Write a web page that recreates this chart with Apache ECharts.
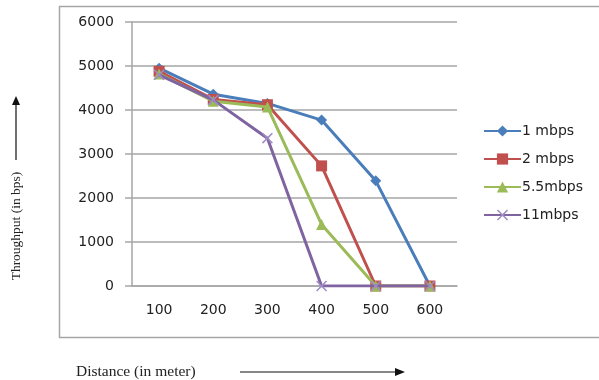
<!DOCTYPE html>
<html>
<head>
<meta charset="utf-8">
<script src="https://cdn.jsdelivr.net/npm/echarts@6/dist/echarts.min.js"></script>
<style>
  html, body { margin: 0; padding: 0; background: #fff; }
  #chart { width: 599px; height: 380px; }
</style>
</head>
<body>
<div id="chart"></div>
<script>
// Throughput versus distance for four 802.11b data rates
const distances = ['100', '200', '300', '400', '500', '600'];
const seriesNames = ['1 mbps', '2 mbps', '5.5mbps', '11mbps'];
const rate1 = [4950, 4360, 4150, 3770, 2390, 0];
const rate2 = [4880, 4240, 4120, 2730, 0, 0];
const rate55 = [4820, 4200, 4070, 1400, 0, 0];
const rate11 = [4800, 4230, 3360, 0, 0, 0];
const yTicks = [0, 1000, 2000, 3000, 4000, 5000, 6000];

const colors = ['#4A7EBB', '#C0504D', '#9BBB59', '#8064A2'];
const crossPath = 'path://M0,1 L1,0 L5,4 L9,0 L10,1 L6,5 L10,9 L9,10 L5,6 L1,10 L0,9 L4,5 Z';
const symbols = ['diamond', 'rect', 'triangle', crossPath];
const symbolSizes = [11, 11, 11, 11];
const values = [rate1, rate2, rate55, rate11];

const chart = echarts.init(document.getElementById('chart'), null, { renderer: 'canvas' });

const series = seriesNames.map((name, i) => ({
  name: name,
  type: 'line',
  data: values[i],
  symbol: symbols[i],
  symbolSize: symbolSizes[i],
  showAllSymbol: true,
  lineStyle: { color: colors[i], width: 3 },
  itemStyle: { color: i === 3 ? '#A08CC4' : colors[i], borderWidth: 0 },
  emphasis: { disabled: true },
  z: 2 + i
}));

chart.setOption({
  animation: false,
  backgroundColor: '#ffffff',
  textStyle: { fontFamily: 'DejaVu Sans' },
  grid: { left: 132, top: 22, right: 142, bottom: 94, containLabel: false },
  legend: {
    data: seriesNames,
    orient: 'vertical',
    left: 478,
    top: 119,
    itemWidth: 37,
    itemHeight: 14,
    itemGap: 14,
    textStyle: { fontSize: 14, color: '#222', fontFamily: 'DejaVu Sans', padding: [0, 0, 0, -4] },
    inactiveColor: '#ccc'
  },
  xAxis: {
    type: 'category',
    data: distances,
    boundaryGap: true,
    axisLine: { show: true, lineStyle: { color: '#A6A6A6', width: 1.5 } },
    axisTick: { show: false },
    axisLabel: { margin: 17, fontSize: 14, color: '#222', fontFamily: 'DejaVu Sans' },
    splitLine: { show: false }
  },
  yAxis: {
    type: 'value',
    min: yTicks[0],
    max: yTicks[yTicks.length - 1],
    interval: 1000,
    axisLine: { show: true, lineStyle: { color: '#A6A6A6', width: 1.5 } },
    axisTick: { show: true, inside: false, length: 7, lineStyle: { color: '#A6A6A6', width: 1.5 } },
    axisLabel: { margin: 18, fontSize: 14, color: '#222', fontFamily: 'DejaVu Sans',
                 formatter: (v) => String(v) },
    splitLine: { show: true, lineStyle: { color: '#A6A6A6', width: 1.5 } }
  },
  series: series,
  graphic: [
    // outer chart frame
    { type: 'rect', silent: true, z: -1,
      shape: { x: 59.5, y: 6.5, width: 560, height: 331 },
      style: { fill: 'none', stroke: '#A6A6A6', lineWidth: 1.5 } },
    // vertical axis caption with arrow
    { type: 'text', silent: true,
      x: 16, y: 226, rotation: Math.PI / 2,
      style: { text: 'Throughput (in bps)', fill: '#222', font: '13.5px "Liberation Serif"',
               align: 'center', verticalAlign: 'middle' } },
    { type: 'line', silent: true,
      shape: { x1: 16, y1: 160, x2: 16, y2: 104 },
      style: { stroke: '#111', lineWidth: 1.2 } },
    { type: 'polygon', silent: true,
      shape: { points: [[16, 96], [12, 105], [20, 105]] },
      style: { fill: '#111' } },
    // horizontal axis caption with arrow
    { type: 'text', silent: true,
      x: 76, y: 372,
      style: { text: 'Distance (in meter)', fill: '#222', font: '15.5px "Liberation Serif"',
               align: 'left', verticalAlign: 'middle' } },
    { type: 'line', silent: true,
      shape: { x1: 240, y1: 372, x2: 396, y2: 372 },
      style: { stroke: '#111', lineWidth: 1.2 } },
    { type: 'polygon', silent: true,
      shape: { points: [[405, 372], [395, 368], [395, 376]] },
      style: { fill: '#111' } }
  ]
});
</script>
</body>
</html>
